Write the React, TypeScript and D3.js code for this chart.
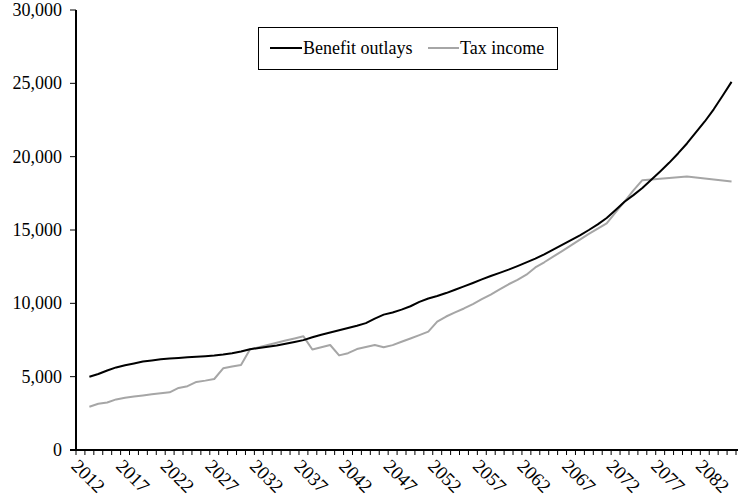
import React from "react";
import * as d3 from "d3";

const years: number[] = d3.range(2012, 2085);

const benefitOutlays: number[] = [
  5000, 5180, 5420, 5630, 5780, 5900, 6030, 6110, 6180, 6240,
  6280, 6320, 6360, 6400, 6440, 6510, 6600, 6720, 6870, 6960,
  7040, 7120, 7240, 7360, 7490, 7690, 7860, 8010, 8160, 8320,
  8470, 8650, 8960, 9230, 9380, 9570, 9800, 10100, 10330, 10500,
  10700, 10930, 11160, 11390, 11630, 11860, 12080, 12300, 12540, 12790,
  13050, 13340, 13660, 13980, 14310, 14640, 15000, 15380, 15820, 16370,
  16930, 17380, 17860, 18420, 18990, 19580, 20220, 20900, 21650, 22400,
  23230, 24150, 25100,
];

const taxIncome: number[] = [
  2950, 3150, 3240, 3450, 3560, 3640, 3720, 3800, 3870, 3930,
  4230, 4350, 4640, 4730, 4840, 5570, 5690, 5800, 6850, 7000,
  7160, 7310, 7460, 7600, 7750, 6850, 7000, 7160, 6450, 6600,
  6880, 7020, 7160, 7000, 7150, 7380, 7600, 7830, 8070, 8750,
  9100, 9380, 9650, 9950, 10280, 10600, 10950, 11300, 11600, 11950,
  12450, 12800, 13180, 13560, 13950, 14340, 14730, 15100, 15450, 16200,
  16930, 17700, 18400, 18450, 18500, 18550, 18600, 18640, 18580, 18510,
  18440, 18370, 18300,
];

const yTicks: number[] = [0, 5000, 10000, 15000, 20000, 25000, 30000];
const xLabelYears: number[] = [2012, 2017, 2022, 2027, 2032, 2037, 2042, 2047, 2052, 2057, 2062, 2067, 2072, 2077, 2082];
const seriesNames: string[] = ["Benefit outlays", "Tax income"];
const seriesColors: string[] = ["#000000", "#A6A6A6"];

const W = 738;
const H = 500;
const left = 76;
const right = 736;
const top = 10;
const bottom = 450;
const FONT = "Liberation Serif, Tinos, Times New Roman, DejaVu Serif, serif";

export default function App() {
  const x = d3.scaleLinear().domain([2010.5, 2084.5]).range([left, right]);
  const y = d3.scaleLinear().domain([0, 30000]).range([bottom, top]);
  const fmt = d3.format(",");

  const line = d3
    .line<number>()
    .x((_, i) => x(years[i]))
    .y((d) => y(d));

  const tickYears = d3.range(2010.5, 2085, 1);
  const ts = { fontFamily: FONT };

  return (
    <svg
      width={W}
      height={H}
      style={{ position: "absolute", left: 0, top: 0, display: "block", background: "#fff", fontFamily: FONT }}
    >
      <rect x={0} y={0} width={W} height={H} fill="#fff" />
      {/* y axis */}
      <line x1={left} x2={left} y1={top} y2={bottom} stroke="#000" strokeWidth={2} />
      {yTicks.map((t) => (
        <g key={t}>
          <line x1={left - 6} x2={left} y1={y(t)} y2={y(t)} stroke="#000" strokeWidth={1} />
          <text x={62} y={y(t)} textAnchor="end" dominantBaseline="central" fontSize={18} fill="#000" style={ts}>
            {fmt(t)}
          </text>
        </g>
      ))}
      {/* x axis */}
      <line x1={left - 6} x2={right + 2} y1={bottom} y2={bottom} stroke="#000" strokeWidth={2} />
      {tickYears.map((t) => (
        <line key={t} x1={x(t)} x2={x(t)} y1={bottom} y2={bottom + 5} stroke="#000" strokeWidth={1} />
      ))}
      {xLabelYears.map((yr) => (
        <text
          key={yr}
          transform={`translate(${x(yr) - 1},${476}) rotate(45)`}
          textAnchor="middle"
          dominantBaseline="central"
          fontSize={19}
          fill="#000"
          style={ts}
        >
          {yr}
        </text>
      ))}
      {/* lines */}
      <path d={line(taxIncome) || ""} fill="none" stroke={seriesColors[1]} strokeWidth={2} strokeLinejoin="round" />
      <path d={line(benefitOutlays) || ""} fill="none" stroke={seriesColors[0]} strokeWidth={2} strokeLinejoin="round" />
      {/* legend */}
      <g>
        <rect x={258.5} y={27.5} width={299} height={42} fill="#fff" stroke="#000" strokeWidth={1} />
        <line x1={270} x2={302} y1={48} y2={48} stroke={seriesColors[0]} strokeWidth={2} />
        <text x={303} y={48} dominantBaseline="central" fontSize={18} fill="#000" style={ts}>
          {seriesNames[0]}
        </text>
        <line x1={428} x2={459} y1={48} y2={48} stroke={seriesColors[1]} strokeWidth={2} />
        <text x={460} y={48} dominantBaseline="central" fontSize={18} fill="#000" style={ts}>
          {seriesNames[1]}
        </text>
      </g>
    </svg>
  );
}
